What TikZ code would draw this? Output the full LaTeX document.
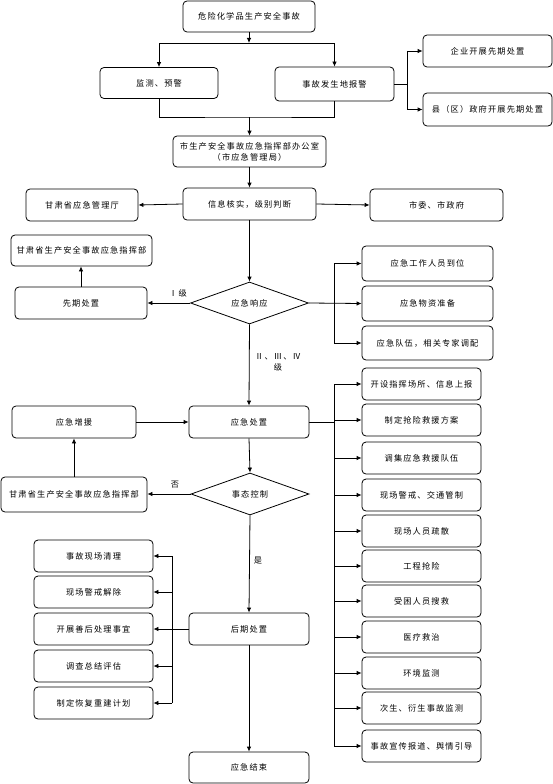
\documentclass[tikz,border=0pt]{standalone}
\usepackage{fontspec}
\usetikzlibrary{arrows.meta,shapes.geometric}
\newfontfamily\cjk[LetterSpace=14]{Noto Sans CJK SC}
\begin{document}
\begin{tikzpicture}[x=1pt,y=-1pt,
  every node/.style={font=\cjk\fontsize{8.2}{11}\selectfont, text=black},
  box/.style={draw, line width=0.8pt, rounded corners=4pt, inner sep=0pt, align=center},
  dia/.style={draw, line width=0.8pt, diamond, aspect=2.8, inner sep=0pt, minimum width=118pt, minimum height=42pt},
  ln/.style={line width=0.8pt},
  arr/.style={line width=0.8pt, -{Latex[length=5pt,width=4.5pt]}},
  lbl/.style={inner sep=0pt, align=center}]
\useasboundingbox (0,0) rectangle (553,784);
% top part
\node[box, minimum width=132pt, minimum height=31pt] (top) at (249,16.5) {危险化学品生产安全事故};
\node[box, minimum width=118pt, minimum height=31pt] (jiance) at (159,83) {监测、预警};
\node[box, minimum width=119pt, minimum height=34pt] (baojing) at (334.5,84) {事故发生地报警};
\node[box, minimum width=129pt, minimum height=32pt] (qiye) at (487.5,51) {企业开展先期处置};
\node[box, minimum width=129pt, minimum height=33pt] (xian) at (487.5,109.5) {县（区）政府开展先期处置};
\node[box, minimum width=153pt, minimum height=31pt] (office) at (249.5,151.5) {市生产安全事故应急指挥部办公室\\（市应急管理局）};
\node[box, minimum width=133pt, minimum height=32pt] (xinxi) at (249.5,204) {信息核实，级别判断};
\node[box, minimum width=112pt, minimum height=32pt] (gsyj) at (82,205) {甘肃省应急管理厅};
\node[box, minimum width=133pt, minimum height=32pt] (shiwei) at (436.5,205) {市委、市政府};
\node[box, minimum width=141pt, minimum height=31pt] (zhihui1) at (81.5,250.5) {甘肃省生产安全事故应急指挥部};
\node[box, minimum width=132pt, minimum height=32pt] (xianqi) at (81,303) {先期处置};
\node[dia] (xy) at (249.5,303) {应急响应};
\node[box, minimum width=131pt, minimum height=35pt] (r1) at (427.5,263.5) {应急工作人员到位};
\node[box, minimum width=131pt, minimum height=35pt] (r2) at (427.5,303.5) {应急物资准备};
\node[box, minimum width=131pt, minimum height=34pt] (r3) at (427.5,343) {应急队伍，相关专家调配};
% middle
\node[box, minimum width=120pt, minimum height=32pt] (cz) at (249,422) {应急处置};
\node[box, minimum width=124pt, minimum height=32pt] (zengyuan) at (74,422) {应急增援};
\node[box, minimum width=146pt, minimum height=35pt] (zhihui2) at (74,494.5) {甘肃省生产安全事故应急指挥部};
\node[dia] (tk) at (250,494) {事态控制};
% right list
\begin{scope}[every node/.append style={box, minimum width=119pt, minimum height=32pt}]
\node (k1) at (421.5,384) {开设指挥场所、信息上报};
\node (k2) at (421.5,420) {制定抢险救援方案};
\node (k3) at (421.5,458) {调集应急救援队伍};
\node (k4) at (421.5,495) {现场警戒、交通管制};
\node (k5) at (421.5,531) {现场人员疏散};
\node (k6) at (421.5,566) {工程抢险};
\node (k7) at (421.5,601) {受困人员搜救};
\node (k8) at (421.5,637) {医疗救治};
\node (k9) at (421.5,673) {环境监测};
\node (k10) at (421.5,708) {次生、衍生事故监测};
\node (k11) at (421.5,746) {事故宣传报道、舆情引导};
% left list
\node (L1) at (93.5,556) {事故现场清理};
\node (L2) at (93.5,592) {现场警戒解除};
\node (L3) at (93.5,629) {开展善后处理事宜};
\node (L4) at (93.5,666) {调查总结评估};
\node (L5) at (93.5,703) {制定恢复重建计划};
\end{scope}
\node[box, minimum width=120pt, minimum height=32pt] (hq) at (249,629) {后期处置};
\node[box, minimum width=120pt, minimum height=31pt] (end) at (249,767.5) {应急结束};
% labels
\node[lbl] (l1) at (178,293) {Ⅰ级};
\node[lbl] (l2) at (278,362) {Ⅱ、Ⅲ、Ⅳ\\级};
\node[lbl] (l3) at (175,485) {否};
\node[lbl] (l4) at (258,561) {是};
% coordinates
\coordinate (s1) at (249,43);
\coordinate (m1) at (249.5,117);
\coordinate (b1) at (407,0);
\coordinate (b2) at (334,0);
\coordinate (b3) at (172,0);
% connectors
\draw[arr] (top.south) -- (s1);
\draw[arr] (s1) -| (jiance.north);
\draw[arr] (s1) -| (baojing.north);
\draw[ln] (baojing.east) -- (baojing.east -| b1);
\draw[ln] (b1 |- qiye.west) -- (b1 |- xian.west);
\draw[arr] (b1 |- qiye.west) -- (qiye.west);
\draw[arr] (b1 |- xian.west) -- (xian.west);
\draw[ln] (jiance.south) |- (m1) -| (baojing.south);
\draw[arr] (m1) -- (office.north);
\draw[arr] (office.south) -- (xinxi.north);
\draw[arr] (xinxi.west) -- (gsyj.east);
\draw[arr] (xinxi.east) -- (shiwei.west);
\draw[arr] (xinxi.south) -- (xy.north);
\draw[arr] (xy.west) -- (xianqi.east);
\draw[arr] (xianqi.north) -- (xianqi.north |- zhihui1.south);
\draw[arr] (xy.east) -- (r2.west);
\draw[ln] (b2 |- r1.west) -- (b2 |- r3.west);
\draw[arr] (b2 |- r1.west) -- (r1.west);
\draw[arr] (b2 |- r3.west) -- (r3.west);
\draw[arr] (xy.south) -- (cz.north);
\draw[arr] (zengyuan.east) -- (cz.west);
\draw[arr] (cz.south) -- (tk.north);
\draw[arr] (tk.west) -- (tk.west -| zhihui2.east);
\draw[arr] (zhihui2.north) -- (zhihui2.north |- zengyuan.south);
\draw[ln] (cz.east) -- (cz.east -| b2);
\draw[ln] (b2 |- k1.west) -- (b2 |- k11.west);
\foreach \k in {k1,k2,k3,k4,k5,k6,k7,k8,k9,k10,k11}
  \draw[arr] (b2 |- \k.west) -- (\k.west);
\draw[arr] (tk.south) -- (hq.north);
\draw[ln] (hq.west) -- (hq.west -| b3);
\draw[ln] (b3 |- L1.east) -- (b3 |- L5.east);
\foreach \k in {L1,L2,L3,L4,L5}
  \draw[arr] (b3 |- \k.east) -- (\k.east);
\draw[arr] (hq.south) -- (end.north);
\end{tikzpicture}
\end{document}
